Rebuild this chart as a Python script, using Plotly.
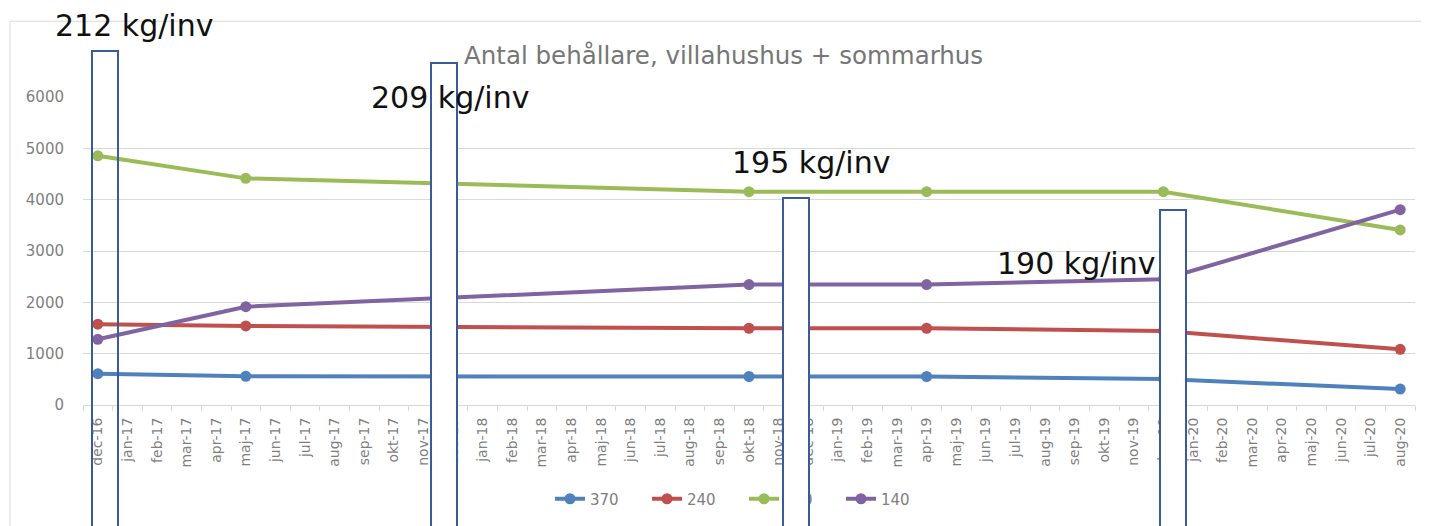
import plotly.graph_objects as go

# ---- data ----
months_sv = ["jan", "feb", "mar", "apr", "maj", "jun", "jul", "aug", "sep", "okt", "nov", "dec"]
categories = ["dec-16"] + [f"{m}-{y}" for y in ("17", "18", "19") for m in months_sv] + [f"{m}-20" for m in months_sv[:8]]

obs_months = ["dec-16", "maj-17", "okt-18", "apr-19", "dec-19", "aug-20"]
s370 = [610, 560, 555, 555, 505, 310]
s240 = [1575, 1540, 1495, 1495, 1440, 1085]
s190 = [4855, 4415, 4155, 4155, 4155, 3410]
s140 = [1280, 1915, 2345, 2345, 2450, 3805]

series_names = ["370", "240", "190", "140"]
series_values = [s370, s240, s190, s140]
series_colors = ["#4F81BD", "#C0504D", "#9BBB59", "#8064A2"]

y_ticks = [0, 1000, 2000, 3000, 4000, 5000, 6000]

title_text = "Antal behållare, villahushus + sommarhus"
kg_labels = ["212 kg/inv", "209 kg/inv", "195 kg/inv", "190 kg/inv"]

# ---- layout geometry (figure is placed 8px in from the page corner) ----
OFF = 8
W, H = 1429 - OFF, 526 - OFF
L, R, T, B = 75, 14, 89, 120
PW, PH = W - L - R, H - T - B


def px_x(page_px):
    return (page_px - OFF - L) / PW


def px_y(page_py):
    return (H - B - (page_py - OFF)) / PH


FONT = "DejaVu Sans"
fig = go.Figure()
for name, vals, col in zip(series_names, series_values, series_colors):
    fig.add_trace(go.Scatter(
        x=obs_months, y=vals, name=name, mode="lines+markers",
        line=dict(color=col, width=4),
        marker=dict(color=col, size=11),
    ))

annotations = []
# outlined boxes (drawn as annotations so they sit above the legend)
boxes = [(91, 119, 50, "rgba(0,0,0,0)"), (430, 458, 62, "white"),
         (782, 810, 197, "white"), (1159, 1187, 209, "white")]
for x0, x1, top, fill in boxes:
    annotations.append(dict(
        text=" ", xref="paper", yref="paper",
        x=px_x((x0 + x1) / 2), y=px_y(top), xanchor="center", yanchor="top",
        width=(x1 - x0) - 4, height=620, borderwidth=2, borderpad=0,
        bordercolor="#3B5A9A", bgcolor=fill, showarrow=False,
    ))
# kg/inv labels
label_pos = [(55, 25.5), (371, 97), (732, 163), (997, 264)]
for txt, (lx, cy) in zip(kg_labels, label_pos):
    annotations.append(dict(
        text=txt, xref="paper", yref="paper", x=px_x(lx), y=px_y(cy),
        xanchor="left", yanchor="middle", showarrow=False,
        font=dict(family=FONT, size=30, color="#111111"),
        borderpad=0, borderwidth=0,
    ))
annotations.append(dict(
    text=title_text, xref="paper", yref="paper", x=px_x(464), y=px_y(55),
    xanchor="left", yanchor="middle", showarrow=False,
    font=dict(family=FONT, size=24.5, color="#767676"),
    borderpad=0, borderwidth=0,
))

shapes = [
    dict(type="line", xref="paper", yref="paper", x0=px_x(10), x1=px_x(1429), y0=px_y(21), y1=px_y(21),
         line=dict(color="#D9D9D9", width=1), layer="below"),
    dict(type="line", xref="paper", yref="paper", x0=px_x(10), x1=px_x(10), y0=px_y(21), y1=px_y(530),
         line=dict(color="#D9D9D9", width=1), layer="below"),
]

fig.update_layout(
    width=W, height=H,
    margin=dict(l=L, r=R, t=T, b=B, pad=0),
    paper_bgcolor="white", plot_bgcolor="white",
    font=dict(family=FONT, color="#7F7F7F"),
    showlegend=True,
    legend=dict(
        orientation="h", x=px_x(550), y=px_y(499), xanchor="left", yanchor="middle",
        font=dict(family=FONT, size=15, color="#7F7F7F"),
        entrywidth=52, entrywidthmode="pixels", itemclick=False, bgcolor="rgba(0,0,0,0)",
    ),
    annotations=annotations,
    shapes=shapes,
    xaxis=dict(
        type="category", categoryorder="array", categoryarray=categories,
        range=[-0.5, len(categories) - 0.5], tickvals=categories, ticktext=categories,
        tickangle=-90, tickfont=dict(family=FONT, size=14, color="#7F7F7F"),
        showgrid=False, showline=True, linecolor="#D9D9D9", linewidth=1,
        ticks="outside", tickson="boundaries", ticklen=5, tickcolor="#D9D9D9",
        ticklabelstandoff=6, zeroline=False, fixedrange=True,
    ),
    yaxis=dict(
        range=[0, 6000], tickvals=y_ticks, ticks="", showline=False,
        showgrid=True, gridcolor="#D9D9D9", gridwidth=1, zeroline=False,
        tickfont=dict(family=FONT, size=15, color="#7F7F7F"),
        ticklabelstandoff=18, fixedrange=True,
    ),
)

fig.write_html("out.html")
